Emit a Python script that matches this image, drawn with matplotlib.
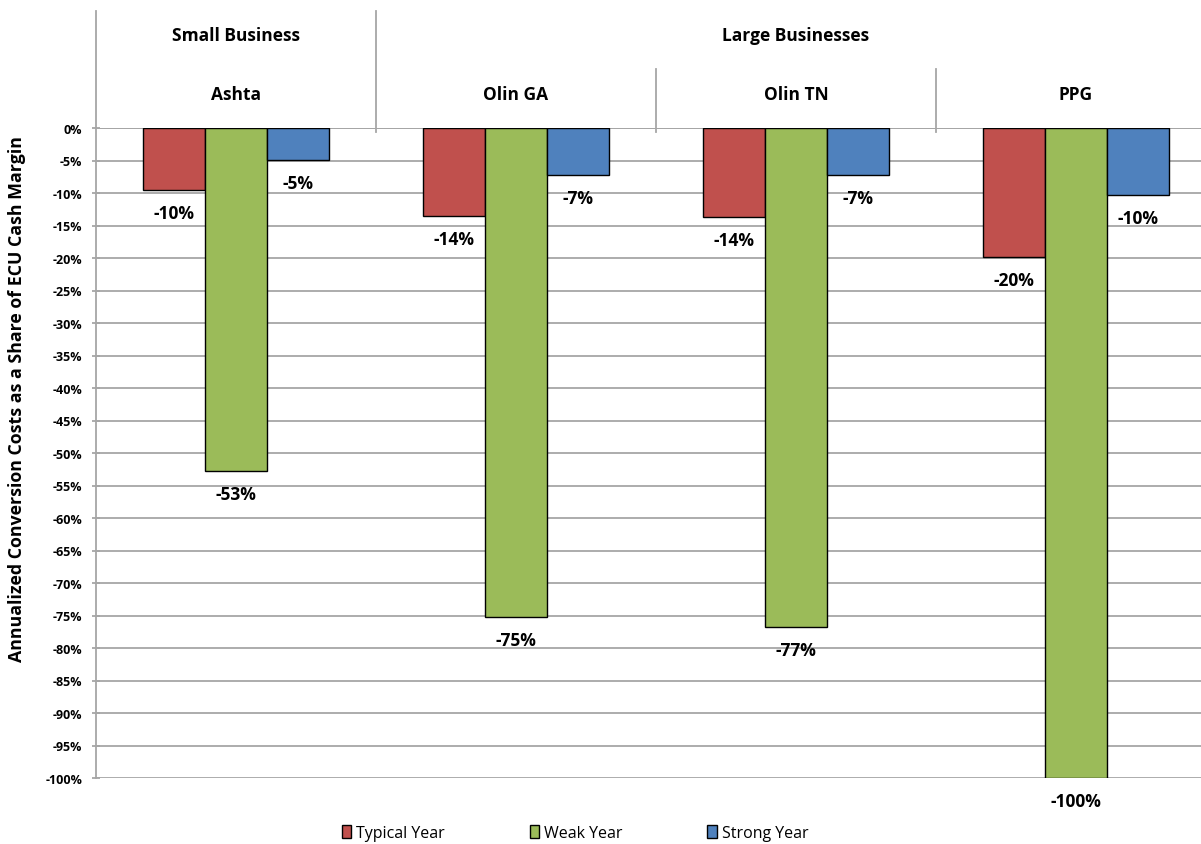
import numpy as np
import matplotlib.pyplot as plt

plt.rcParams['font.family'] = ['Open Sans', 'DejaVu Sans']

# data
plants = ["Ashta", "Olin GA", "Olin TN", "PPG"]
groups = ["Small Business", "Large Businesses"]
series = ["Typical Year", "Weak Year", "Strong Year"]
typical = [-9.5, -13.5, -13.7, -19.8]
weak = [-52.8, -75.2, -76.8, -100.0]
strong = [-4.9, -7.2, -7.2, -10.3]
labels_typ = ["-10%", "-14%", "-14%", "-20%"]
labels_weak = ["-53%", "-75%", "-77%", "-100%"]
labels_str = ["-5%", "-7%", "-7%", "-10%"]
yticks = list(range(0, -105, -5))

colors = ["#C0504D", "#9BBB59", "#4F81BD"]
grid_c = "#A6A6A6"

fig = plt.figure(figsize=(12.01, 8.45), dpi=100)
ax = fig.add_axes([96/1201, 66/845, 1120/1201, 650/845])

x = np.arange(len(plants))
w = 62/280
vals = [typical, weak, strong]
labs = [labels_typ, labels_weak, labels_str]
bars = []
for i, (v, lab) in enumerate(zip(vals, labs)):
    xs = x + (i - 1) * w
    b = ax.bar(xs, v, w, color=colors[i], edgecolor="black", linewidth=1.0,
               zorder=3, label=series[i])
    bars.append(b)
    for xi, vi, li in zip(xs, v, lab):
        ax.text(xi, vi - 2.2, li, ha="center", va="top", fontsize=12.5,
                fontweight="bold", zorder=4)

ax.set_xlim(-0.5, 3.5)
ax.set_ylim(-100, 0)
ax.set_yticks(yticks)
ax.set_yticklabels([f"{t}%" for t in yticks], fontsize=9, fontweight="bold")
ax.set_xticks([])
ax.yaxis.grid(True, color=grid_c, linewidth=1.3, zorder=0)
ax.tick_params(axis="y", length=6, direction="inout", color=grid_c, width=1.3, pad=7)
for s in ["top", "right", "bottom"]:
    ax.spines[s].set_visible(False)
ax.spines["left"].set_color(grid_c)
ax.spines["left"].set_linewidth(1.3)
ax.axhline(0, color=grid_c, linewidth=1.3, zorder=1)

# header lines and labels
ax.plot([-0.5, -0.5], [0, 18], color=grid_c, lw=1.3, clip_on=False)
ax.plot([0.5, 0.5], [-0.6, 18], color=grid_c, lw=1.3, clip_on=False)
for xl in [1.5, 2.5]:
    ax.plot([xl, xl], [-0.6, 9.1], color=grid_c, lw=1.3, clip_on=False)
ax.text(0, 14.3, groups[0], ha="center", va="center", fontsize=12.5, fontweight="bold")
ax.text(2, 14.3, groups[1], ha="center", va="center", fontsize=12.5, fontweight="bold")
for xi, p in zip(x, plants):
    ax.text(xi, 5.2, p, ha="center", va="center", fontsize=12.5, fontweight="bold")

ax.set_ylabel("Annualized Conversion Costs as a Share of ECU Cash Margin",
              fontsize=12.8, fontweight="bold")
ax.yaxis.set_label_coords(-70/1120, 0.585)

fig.legend(handles=bars, labels=series, loc="center", ncol=3,
           bbox_to_anchor=(575/1201, 1 - 834/845), frameon=False,
           fontsize=11.5, handlelength=0.6, handleheight=0.9,
           handletextpad=0.3, columnspacing=5.3)

fig.savefig("out.png", dpi=100)
